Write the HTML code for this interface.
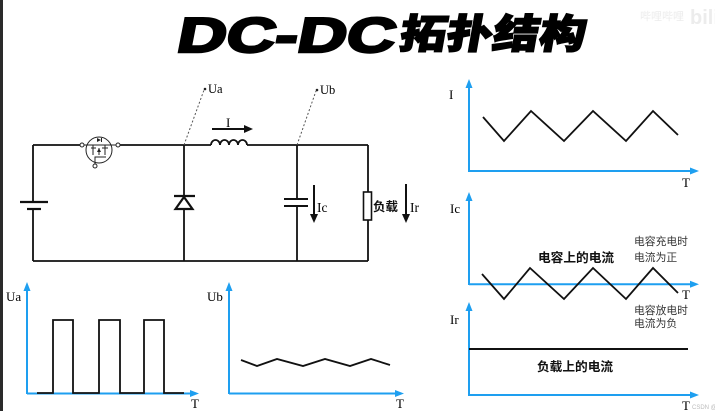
<!DOCTYPE html>
<html><head><meta charset="utf-8"><style>
html,body{margin:0;padding:0;background:#fff;}
svg{display:block;}
.s{font-family:"Liberation Serif",serif;fill:#000;}
.c{font-family:"Liberation Sans","Noto Sans CJK SC",sans-serif;}
</style></head><body>
<svg width="715" height="411" viewBox="0 0 715 411" xmlns="http://www.w3.org/2000/svg">
<rect x="0" y="0" width="715" height="411" fill="#fff"/>
<rect x="0" y="0" width="3" height="411" fill="#2a2a2a"/>

<!-- watermark -->
<text x="640" y="20" font-family="Liberation Sans,sans-serif" font-size="11" fill="#ececec">哔哩哔哩</text>
<text x="690" y="24" font-family="Liberation Sans,sans-serif" font-weight="bold" font-size="20" fill="#ececec">bili</text>

<!-- title -->
<text transform="translate(175,52) skewX(-11)" font-family="Liberation Sans,sans-serif" font-weight="bold" font-size="49" textLength="218" lengthAdjust="spacingAndGlyphs" stroke="#000" stroke-width="2.5" fill="#000">DC-DC</text>
<text transform="translate(398,48) skewX(-10)" font-family="Noto Sans CJK SC,sans-serif" font-weight="900" font-size="40" textLength="186" lengthAdjust="spacingAndGlyphs" stroke="#000" stroke-width="1.5" fill="#000">拓扑结构</text>

<!-- circuit -->
<g stroke="#111" stroke-width="1.8" fill="none">
  <line x1="33" y1="145" x2="33" y2="202"/>
  <line x1="33" y1="209" x2="33" y2="261"/>
  <line x1="20" y1="202" x2="48" y2="202" stroke-width="2.2"/>
  <line x1="27" y1="209" x2="41" y2="209" stroke-width="2.2"/>
  <line x1="33" y1="145" x2="80" y2="145"/>
  <line x1="120" y1="145" x2="211" y2="145"/>
  <line x1="247" y1="145" x2="368" y2="145"/>
  <path d="M211,145 a4.5,5 0 0 1 9,0 a4.5,5 0 0 1 9,0 a4.5,5 0 0 1 9,0 a4.5,5 0 0 1 9,0"/>
  <line x1="33" y1="261" x2="368" y2="261"/>
  <line x1="184" y1="145" x2="184" y2="261"/>
  <line x1="297" y1="145" x2="297" y2="199"/>
  <line x1="297" y1="206" x2="297" y2="261"/>
  <line x1="284" y1="199" x2="308" y2="199" stroke-width="2"/>
  <line x1="284" y1="206" x2="308" y2="206" stroke-width="2"/>
  <line x1="368" y1="145" x2="368" y2="192"/>
  <line x1="368" y1="220" x2="368" y2="261"/>
  <rect x="363.5" y="192" width="8" height="28" stroke-width="1.6"/>
</g>
<g fill="#fff" stroke="#111" stroke-width="2.2">
  <line x1="174" y1="196" x2="195" y2="196"/>
  <polygon points="184,197 175.5,209 192.5,209"/>
</g>
<!-- mosfet -->
<g stroke="#222" stroke-width="1" fill="none">
  <circle cx="99" cy="150" r="13"/>
  <circle cx="82" cy="145" r="2" fill="#fff"/>
  <circle cx="118" cy="145" r="2" fill="#fff"/>
  <line x1="84" y1="145" x2="88" y2="145"/>
  <line x1="110" y1="145" x2="116" y2="145"/>
  <line x1="88" y1="145" x2="111" y2="145"/>
  <line x1="93" y1="145" x2="93" y2="155"/>
  <line x1="105" y1="145" x2="105" y2="155"/>
  <line x1="91" y1="148" x2="96" y2="148"/>
  <line x1="102" y1="148" x2="108" y2="148"/>
  <line x1="99" y1="148" x2="99" y2="155"/>
  <polyline points="95,164 95,157 106,157"/>
  <circle cx="95" cy="166" r="2" fill="#fff"/>
</g>
<polygon points="99,148 97,152 101,152" fill="#222"/>
<polygon points="101,140 97,138 97,142" fill="#222"/>
<line x1="101.5" y1="138" x2="101.5" y2="142" stroke="#222" stroke-width="1"/>

<g stroke="#555" stroke-width="1" stroke-dasharray="2,2">
  <line x1="184" y1="145" x2="204" y2="90"/>
  <line x1="297" y1="145" x2="316" y2="91"/>
</g>
<circle cx="205" cy="89" r="1.3" fill="#222"/>
<circle cx="317" cy="90" r="1.3" fill="#222"/>
<text class="s" x="208" y="93" font-size="12.5">Ua</text>
<text class="s" x="320" y="94" font-size="12.5">Ub</text>

<line x1="212" y1="129" x2="246" y2="129" stroke="#111" stroke-width="2"/>
<polygon points="253,129 244,125 244,133" fill="#111"/>
<text class="s" x="226" y="127" font-size="13">I</text>
<line x1="314" y1="185" x2="314" y2="216" stroke="#111" stroke-width="2"/>
<polygon points="314,223 310,214 318,214" fill="#111"/>
<text class="s" x="317" y="212" font-size="13.5">Ic</text>
<text class="c" x="373" y="211" font-size="12.5" font-weight="bold" fill="#111">负载</text>
<line x1="406" y1="184" x2="406" y2="216" stroke="#111" stroke-width="2"/>
<polygon points="406,223 402,214 410,214" fill="#111"/>
<text class="s" x="410" y="212" font-size="13.5">Ir</text>

<!-- axes -->
<g stroke="#1e9ff0" stroke-width="2" fill="none">
  <line x1="27" y1="289" x2="27" y2="394"/>
  <line x1="27" y1="393.5" x2="192" y2="393.5"/>
  <line x1="229" y1="289" x2="229" y2="394"/>
  <line x1="229" y1="393.5" x2="397" y2="393.5"/>
  <line x1="469" y1="86" x2="469" y2="172"/>
  <line x1="469" y1="171" x2="692" y2="171"/>
  <line x1="469" y1="199" x2="469" y2="285"/>
  <line x1="469" y1="284.3" x2="692" y2="284.3"/>
  <line x1="469" y1="309" x2="469" y2="396"/>
  <line x1="469" y1="395" x2="692" y2="395"/>
</g>
<g fill="#1e9ff0">
  <polygon points="27,282 23.5,291 30.5,291"/>
  <polygon points="199,393.5 190,390 190,397"/>
  <polygon points="229,282 225.5,291 232.5,291"/>
  <polygon points="404,393.5 395,390 395,397"/>
  <polygon points="469,79 465.5,88 472.5,88"/>
  <polygon points="699,171 690,167.5 690,174.5"/>
  <polygon points="469,192 465.5,201 472.5,201"/>
  <polygon points="699,284.3 690,280.8 690,287.8"/>
  <polygon points="469,302 465.5,311 472.5,311"/>
  <polygon points="699,395 690,391.5 690,398.5"/>
</g>

<g stroke="#111" stroke-width="1.8" fill="none" stroke-linejoin="miter">
  <polyline points="37,393 53,393 53,320 73,320 73,393 99,393 99,320 120,320 120,393 144,393 144,320 164,320 164,393 184,393"/>
  <polyline points="241,360 257,366 277,359 303,366 325,359 350,366 371,359 390,365"/>
  <polyline points="483,117 504,141 531,111 564,141 593,111 626,141 653,111 678,135"/>
  <polyline points="482,274 504,299 530,268 564,299 593,268 626,299 653,268 678,293"/>
  <line x1="469" y1="349" x2="688" y2="349" stroke-width="2"/>
</g>

<text class="s" x="6" y="301" font-size="13">Ua</text>
<text class="s" x="191" y="408" font-size="13">T</text>
<text class="s" x="207" y="301" font-size="13">Ub</text>
<text class="s" x="396" y="408" font-size="13">T</text>
<text class="s" x="449" y="99" font-size="13">I</text>
<text class="s" x="682" y="187" font-size="13">T</text>
<text class="s" x="450" y="213" font-size="13">Ic</text>
<text class="s" x="682" y="299" font-size="13">T</text>
<text class="s" x="450" y="324" font-size="13">Ir</text>
<text class="s" x="682" y="410" font-size="13">T</text>
<text x="692" y="409" font-family="Liberation Sans,sans-serif" font-size="6" fill="#bbb">CSDN @李</text>

<text class="c" x="538" y="262" font-size="12.7" font-weight="bold" fill="#111">电容上的电流</text>
<text class="c" x="634" y="245" font-size="10.8" fill="#333">电容充电时</text>
<text class="c" x="634" y="261" font-size="10.8" fill="#333">电流为正</text>
<text class="c" x="634" y="314" font-size="10.8" fill="#333">电容放电时</text>
<text class="c" x="634" y="327" font-size="10.8" fill="#333">电流为负</text>
<text class="c" x="537" y="371" font-size="12.7" font-weight="bold" fill="#111">负载上的电流</text>
</svg>
</body></html>
